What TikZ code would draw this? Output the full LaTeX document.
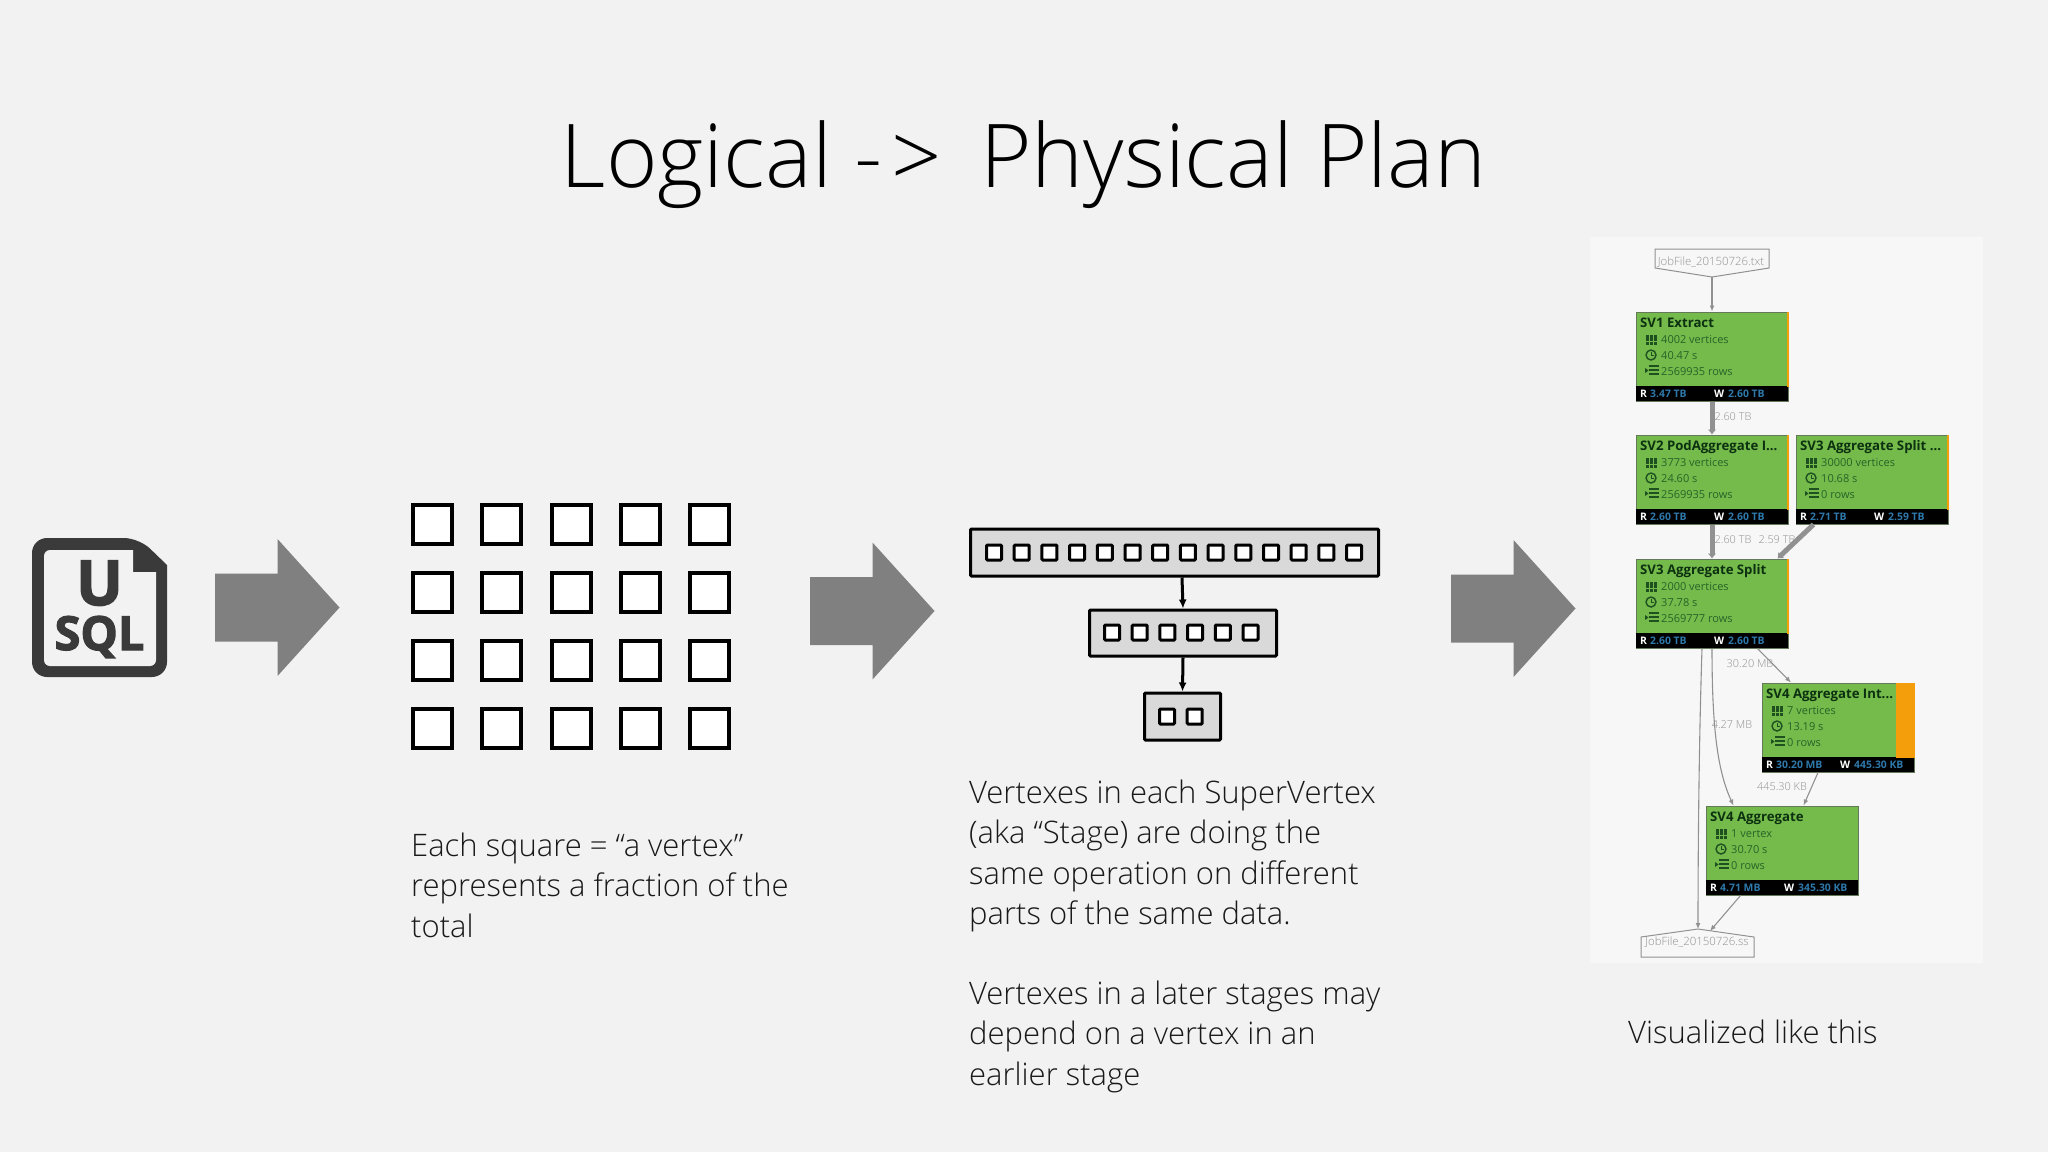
\documentclass[tikz,border=0pt]{standalone}
\usepackage{fontspec}
\setmainfont{Open Sans Light}
\newfontfamily\panelfont{Open Sans}
\newfontfamily\iconfont[FakeBold=2.5]{Open Sans Bold}
\usepackage{tikz}
\usetikzlibrary{arrows.meta}
\definecolor{ColBack}{RGB}{242,242,242}
\definecolor{ColPanel}{RGB}{247,247,248}
\definecolor{ColArrow}{RGB}{128,128,128}
\definecolor{ColIcon}{RGB}{58,58,58}
\definecolor{ColStage}{RGB}{217,217,217}
\definecolor{ColGreen}{RGB}{116,187,75}
\definecolor{ColEdge}{RGB}{100,120,90}
\definecolor{ColOrange}{RGB}{245,158,11}
\definecolor{ColTitle}{RGB}{12,48,16}
\definecolor{ColInfo}{RGB}{38,100,40}
\definecolor{ColBlue}{RGB}{46,120,170}
\definecolor{ColLine}{RGB}{145,145,145}
\definecolor{ColLabel}{RGB}{145,145,145}
\tikzstyle{NodeVertex}=[rectangle,draw=black,fill=white,line width=4pt,inner sep=0pt,minimum size=39pt]
\tikzstyle{NodeSmall}=[rectangle,draw=black,fill=white,line width=3pt,inner sep=0pt,minimum size=15pt,
rounded corners=1pt]
\tikzstyle{NodeStage}=[rectangle,draw=black,fill=ColStage,line width=3pt,inner sep=0pt,rounded corners=1pt]
\tikzstyle{EdgeStage}=[black,line width=3pt,-{Latex[length=9pt,width=8pt]}]
\tikzstyle{BodyText}=[inner sep=0pt,anchor=base west,align=left,text=black!90,
font=\fontsize{31}{40.2}\selectfont]
\tikzstyle{IconText}=[inner sep=0pt,anchor=base,text=ColIcon,text depth=0pt]
\tikzstyle{NodeSV}=[rectangle,draw=ColEdge,fill=ColGreen,line width=1pt,inner sep=0pt,anchor=north west,
minimum width=152pt,minimum height=89pt]
\tikzstyle{NodeFoot}=[rectangle,fill=black,inner sep=0pt,anchor=south,minimum width=152pt,minimum height=15pt]
\tikzstyle{SVHead}=[inner sep=0pt,anchor=base west,text=ColTitle,font=\panelfont\bfseries\fontsize{13.2}{14}\selectfont]
\tikzstyle{SVInfo}=[inner sep=0pt,anchor=base west,text=ColInfo,font=\panelfont\fontsize{11}{12}\selectfont]
\tikzstyle{SVKey}=[inner sep=0pt,anchor=base west,text=white,font=\panelfont\bfseries\fontsize{10.4}{12}\selectfont]
\tikzstyle{SVVal}=[inner sep=0pt,anchor=base west,text=ColBlue,font=\panelfont\bfseries\fontsize{10.4}{12}\selectfont]
\tikzstyle{EdgeLabel}=[inner sep=0pt,text=ColLabel,font=\fontsize{10.9}{12}\selectfont]
\tikzstyle{FileLabel}=[inner sep=0pt,text=ColLabel,font=\fontsize{11.4}{12}\selectfont]
\tikzstyle{FileLine}=[ColLine,line width=1pt]
\tikzstyle{EdgeThin}=[ColLine,line width=1.1pt,-{Latex[length=6pt,width=5pt]}]
\tikzstyle{EdgeThick}=[ColLine,line width=5pt,-{Latex[length=5pt,width=9pt]}]
\newcommand{\BigArrow}[2]{
    \fill[ColArrow](#1,#2-34)--++(62.5,0)--++(0,-34.5)--++(62,68.5)--++(-62,68.5)--++(0,-34.5)--++(-62.5,0)--cycle;}
\newcommand{\SVBox}[9]{
    \begin{scope}[shift={(#2,#3)}]
        \node[NodeSV](#1)at(0.5,0.5){};
        \node[NodeFoot](#1foot)at(#1.south){};
        \node[SVHead](#1head)at(5,16){#4};
        \node[SVInfo](#1vert)at(26,32){#5};
        \node[SVInfo](#1time)at(26,48){#6};
        \node[SVInfo](#1rows)at(26,64){#7};
        \node[SVKey](#1rkey)at(5,86){R};
        \node[SVVal](#1rval)at(15,86){#8};
        \node[SVKey](#1wkey)at(79,86){W};
        \node[SVVal](#1wval)at(93,86){#9};
        \foreach \i in {0,1,2}\foreach \j in {0,1,2}
            \fill[ColInfo!80!black](11+3.8*\i,23.5+3.8*\j)rectangle++(3,3);
        \draw[ColInfo!80!black,line width=1.4pt](16,44)circle(5);
        \draw[ColInfo!80!black,line width=.9pt](16,41)--(16,44)--(19,44);
        \fill[ColInfo!80!black](10,57)--(13.5,59.5)--(10,62)--cycle;
        \foreach \j in {55.2,59,62.8}
            \draw[ColInfo!80!black,line width=1.5pt](14,\j)--(24,\j);
    \end{scope}}
\begin{document}
\begin{tikzpicture}[x=1pt,y=-1pt]
        \useasboundingbox(0,0)rectangle(2048,1152);
        \fill[ColBack](0,0)rectangle(2048,1152);
        \node[inner sep=0pt,anchor=base,text=black,font=\fontsize{88}{96}\selectfont](title)at(1023.5,187){Logical -\kern8pt>\kern39pt Physical Plan};
        \fill[ColIcon,rounded corners=15pt](32,538)--(139,538)[sharp corners]--(167,565)[rounded corners=15pt]--(167,677)--(32,677)--cycle;
        \fill[ColBack,rounded corners=6pt](44,550)[sharp corners]--(133,550)--(133,572)--(156,572)[rounded corners=6pt]--(156,666)--(44,666)--cycle;
        \node[IconText,text height=44pt,font=\iconfont\fontsize{62}{62}\selectfont](usql)at(99.5,605){U};
        \node[IconText,text height=34pt,font=\iconfont\fontsize{47}{48}\selectfont](sql)at(99.5,650){SQL};
        \BigArrow{215}{607.5}
        \BigArrow{810}{611}
        \BigArrow{1451}{608.5}
        \foreach \i in {0,...,4}\foreach \j in {0,...,3}
            \node[NodeVertex](v\i\j)at(432.5+69.3*\i,524.5+68*\j){};
        \node[BodyText](TextGrid)at(411,937){Each square = “a vertex”\\represents a fraction of the\\total};
        \node[NodeStage,minimum width=408pt,minimum height=47pt](StageA)at(1174.5,552.5){};
        \node[NodeStage,minimum width=187pt,minimum height=46pt](StageB)at(1183,633){};
        \node[NodeStage,minimum width=76pt,minimum height=47pt](StageC)at(1182.5,716.5){};
        \foreach \i in {0,...,13}\node[NodeSmall](sa\i)at(994+27.7*\i,552.5){};
        \foreach \i in {0,...,5}\node[NodeSmall](sb\i)at(1112+27.7*\i,632.5){};
        \foreach \i in {0,1}\node[NodeSmall](sc\i)at(1167+27.7*\i,716.5){};
        \draw[EdgeStage]([xshift=7.5pt]StageA.south)--(StageB.north);
        \draw[EdgeStage](StageB.south)--(StageC.north);
        \node[BodyText](TextStage)at(969,1085){Vertexes in each SuperVertex\\(aka “Stage) are doing the\\same operation on different\\parts of the same data.\\[40.2pt]Vertexes in a later stages may\\depend on a vertex in an\\earlier stage};
        \fill[ColPanel](1590,237)rectangle(1983,963);
        \node[BodyText](TextPlan)at(1628,1043){Visualized like this};
        \node[EdgeLabel](la)at(1733,417){2.60 TB};
        \node[EdgeLabel](lb)at(1733,540){2.60 TB};
        \node[EdgeLabel](lc)at(1777,540){2.59 TB};
        \node[EdgeLabel](ld)at(1750,664){30.20 MB};
        \node[EdgeLabel](le)at(1732,725){4.27 MB};
        \node[EdgeLabel](lf)at(1782,787){445.30 KB};
        \SVBox{SVa}{1635}{311}{SV1 Extract}{4002 vertices}{40.47 s}{2569935 rows}{3.47 TB}{2.60 TB}
        \SVBox{SVb}{1635}{434}{SV2 PodAggregate I...}{3773 vertices}{24.60 s}{2569935 rows}{2.60 TB}{2.60 TB}
        \SVBox{SVc}{1795}{434}{SV3 Aggregate Split ...}{30000 vertices}{10.68 s}{0 rows}{2.71 TB}{2.59 TB}
        \SVBox{SVd}{1635}{558}{SV3 Aggregate Split}{2000 vertices}{37.78 s}{2569777 rows}{2.60 TB}{2.60 TB}
        \SVBox{SVe}{1761}{682}{SV4 Aggregate Int...}{7 vertices}{13.19 s}{0 rows}{30.20 MB}{445.30 KB}
        \SVBox{SVf}{1705}{805}{SV4 Aggregate}{1 vertex}{30.70 s}{0 rows}{4.71 MB}{345.30 KB}
        \foreach \n in {SVa,SVb,SVc,SVd}
            \fill[ColOrange](\n.north east)rectangle([xshift=-1.5pt,yshift=15pt]\n.south east);
        \fill[ColOrange](SVe.north east)rectangle([xshift=-19pt,yshift=15pt]SVe.south east);
        \draw[FileLine](1655,249)--(1769,249)--(1769,268)--(1712,277)--(1655,268)--cycle;
        \node[FileLabel](FileA)at(1711,262){JobFile\_20150726.txt};
        \coordinate(FileTip)at(1712,277);
        \draw[FileLine](1641,937)--(1698,929)--(1754,937)--(1754,957)--(1641,957)--cycle;
        \node[FileLabel](FileB)at(1697,942){JobFile\_20150726.ss};
        \coordinate(FilePeak)at(1698,929);
        \coordinate(FileSide)at(1710,931);
        \draw[EdgeThin](FileTip)--(SVa.north);
        \draw[EdgeThick](SVa.south)--(SVb.north);
        \draw[EdgeThick](SVb.south)--(SVd.north);
        \draw[EdgeThick]([xshift=-58.5pt]SVc.south)--([xshift=65.5pt]SVd.north);
        \draw[EdgeThin]([xshift=45.5pt]SVd.south)--([xshift=-47pt]SVe.north);
        \draw[EdgeThin](SVd.south)..controls(1712,725)and(1717,770)..([xshift=-48.5pt]SVf.north);
        \draw[EdgeThin]([xshift=-10pt]SVd.south)..controls(1699,740)and(1698,850)..(FilePeak);
        \draw[EdgeThin]([xshift=-20pt]SVe.south)--([xshift=21.5pt]SVf.north);
        \draw[EdgeThin]([xshift=-41.5pt]SVf.south)--(FileSide);
\end{tikzpicture}
\end{document}
